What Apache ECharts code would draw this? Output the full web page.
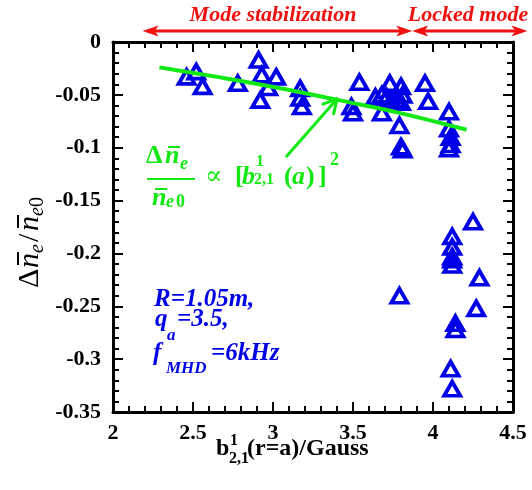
<!DOCTYPE html>
<html>
<head>
<meta charset="utf-8">
<script src="https://cdn.jsdelivr.net/npm/echarts@6/dist/echarts.min.js"></script>
<style>
  html, body { margin: 0; padding: 0; background: #ffffff; }
  #chart { width: 532px; height: 490px; }
</style>
</head>
<body>
<div id="chart"></div>
<script>
// Edge perturbation amplitude b(2,1) at r=a (Gauss) and relative drop of line-averaged density
const stabB  = [2.46, 2.52, 2.56, 2.78, 2.91, 2.93, 3.02, 2.97, 2.92, 3.17, 3.17, 3.18,
                3.54, 3.49, 3.50, 3.64, 3.68, 3.68, 3.73, 3.80, 3.71, 3.74, 3.77, 3.80,
                3.81, 3.79, 3.80, 3.81, 3.95, 3.97, 4.10, 4.10, 4.11, 4.11, 4.10];
const stabDn = [-0.033, -0.028, -0.042, -0.039, -0.017, -0.031, -0.033, -0.043, -0.055, -0.044, -0.053, -0.061,
                -0.038, -0.061, -0.067, -0.052, -0.050, -0.067, -0.039, -0.042, -0.052, -0.055, -0.055, -0.057,
                -0.050, -0.079, -0.099, -0.102, -0.039, -0.056, -0.066, -0.082, -0.090, -0.097, -0.101];
const lockedB  = [4.25, 4.12, 4.12, 4.12, 4.12, 4.12, 4.29, 3.79, 4.27, 4.14, 4.14, 4.11, 4.12];
const lockedDn = [-0.170, -0.184, -0.194, -0.203, -0.206, -0.211, -0.223, -0.240, -0.252, -0.266, -0.272, -0.309, -0.328];

// Quadratic trend drawn through the stabilization points
const fitB  = [2.29, 2.65, 3.02, 3.41, 3.79, 4.21];
const fitDn = [-0.024, -0.033, -0.043, -0.055, -0.067, -0.083];

const xTicks = [2, 2.5, 3, 3.5, 4, 4.5];
const yTicks = [0, -0.05, -0.1, -0.15, -0.2, -0.25, -0.3, -0.35];

const BLUE = '#0000e6';
const GREEN = '#12e812';
const RED = '#f01010';
const SERIF = 'Liberation Serif';

const chart = echarts.init(document.getElementById('chart'), null, { renderer: 'canvas' });

function zip(a, b) { return a.map((v, i) => [v, b[i]]); }

const axisCommon = {
  axisLine: { show: true, onZero: false, lineStyle: { color: '#000', width: 3 } },
  axisTick: { show: true, inside: true, length: 10, lineStyle: { color: '#000', width: 2 } },
  minorTick: { show: true, splitNumber: 5, length: 6, lineStyle: { color: '#000', width: 2 } },
  splitLine: { show: false },
  minorSplitLine: { show: false }
};
const labelStyle = { color: '#000', fontFamily: SERIF, fontWeight: 'bold', fontSize: 22 };

const triStyle = { color: 'rgba(255,255,255,0)', borderColor: BLUE, borderWidth: 3.8, opacity: 1 };

chart.setOption({
  animation: false,
  backgroundColor: '#ffffff',
  grid: { left: 113, right: 19, top: 42, bottom: 78, containLabel: false },
  xAxis: [
    Object.assign({}, axisCommon, {
      type: 'value', position: 'bottom', min: xTicks[0], max: xTicks[xTicks.length - 1], interval: 0.5,
      axisLabel: Object.assign({ margin: 10, formatter: v => String(v) }, labelStyle)
    }),
    Object.assign({}, axisCommon, {
      type: 'value', position: 'top', min: xTicks[0], max: xTicks[xTicks.length - 1], interval: 0.5,
      axisLabel: { show: false }
    })
  ],
  yAxis: [
    Object.assign({}, axisCommon, {
      type: 'value', position: 'left', min: yTicks[yTicks.length - 1], max: yTicks[0], interval: 0.05,
      axisLabel: Object.assign({ margin: 12, formatter: v => String(+v.toFixed(2)) }, labelStyle)
    }),
    Object.assign({}, axisCommon, {
      type: 'value', position: 'right', min: yTicks[yTicks.length - 1], max: yTicks[0], interval: 0.05,
      axisLabel: { show: false }
    })
  ],
  series: [
    {
      name: 'Mode stabilization', type: 'scatter', xAxisIndex: 0, yAxisIndex: 0,
      data: zip(stabB, stabDn), symbol: 'triangle', symbolSize: [16, 14],
      itemStyle: triStyle, z: 3
    },
    {
      name: 'Locked mode', type: 'scatter', xAxisIndex: 0, yAxisIndex: 0,
      data: zip(lockedB, lockedDn), symbol: 'triangle', symbolSize: [16, 14],
      itemStyle: triStyle, z: 3
    },
    {
      name: 'fit', type: 'line', xAxisIndex: 0, yAxisIndex: 0,
      data: zip(fitB, fitDn), smooth: 0.4, showSymbol: false, symbol: 'none',
      lineStyle: { color: GREEN, width: 4 }, z: 4
    }
  ]
});

// ---------- annotations ----------
const px = (x, y) => chart.convertToPixel({ xAxisIndex: 0, yAxisIndex: 0 }, [x, y]);

function txt(x, y, s, size, opt) {
  opt = opt || {};
  return {
    type: 'text', x: x, y: y, z: 10,
    style: {
      text: s, fill: opt.fill || '#000', fontSize: size, fontFamily: opt.family || SERIF,
      fontStyle: opt.italic ? 'italic' : 'normal', fontWeight: opt.bold ? 'bold' : 'normal',
      align: opt.align || 'left', verticalAlign: opt.va || 'middle'
    }
  };
}
function seg(x1, y1, x2, y2, color, w) {
  return { type: 'line', z: 10, shape: { x1, y1, x2, y2 }, style: { stroke: color, lineWidth: w, lineCap: 'round' } };
}
function bar(x1, x2, y, color, w) {
  return { type: 'line', z: 10, shape: { x1, y1: y, x2, y2: y }, style: { stroke: color, lineWidth: w, lineCap: 'butt' } };
}
function head(tipX, tipY, dir, color) {
  // filled arrow head pointing along dir (+1 right, -1 left)
  const L = 16, W = 5.5;
  return {
    type: 'polygon', z: 10,
    shape: { points: [[tipX, tipY], [tipX - dir * L, tipY - W], [tipX - dir * L * 0.75, tipY], [tipX - dir * L, tipY + W]] },
    style: { fill: color }
  };
}

const g = [];

// Regime arrows above the frame
const yArr = 31;
const xL = px(2.185, 0)[0], xM = px(3.87, 0)[0], xR = px(4.59, 0)[0];
g.push(seg(xL + 6, yArr, xM - 6, yArr, RED, 3));
g.push(seg(xM + 6, yArr, xR - 6, yArr, RED, 3));
g.push(head(xL, yArr, -1, RED), head(xM, yArr, 1, RED), head(xM, yArr, -1, RED), head(xR, yArr, 1, RED));
g.push(txt(273, 15, 'Mode stabilization', 22, { fill: RED, bold: true, italic: true, align: 'center' }));
g.push(txt(468, 15, 'Locked mode', 22, { fill: RED, bold: true, italic: true, align: 'center' }));

// Green pointer from the formula to the trend line
const a0 = px(3.085, -0.108), a1 = px(3.40, -0.054);
g.push(seg(a0[0], a0[1], a1[0], a1[1], GREEN, 3));
const ang = Math.atan2(a1[1] - a0[1], a1[0] - a0[0]);
[0.5, -0.5].forEach(d => {
  g.push(seg(a1[0], a1[1], a1[0] - 15 * Math.cos(ang + d), a1[1] - 15 * Math.sin(ang + d), GREEN, 3));
});

// Scaling law: Δn̄e / n̄e0 ∝ [b^1_{2,1}(a)]^2
const gi = { fill: GREEN, italic: true, bold: true };
const gr = { fill: GREEN, bold: true };
g.push(txt(146, 156, 'Δ', 26, gr));
g.push(txt(165, 156, 'n', 26, gi));
g.push(bar(168, 180, 147, GREEN, 2));
g.push(txt(180, 164, 'e', 18, gi));
g.push(bar(147, 195, 179, GREEN, 2));
g.push(txt(152, 198, 'n', 26, gi));
g.push(bar(155, 167, 189, GREEN, 2));
g.push(txt(166, 202, 'e', 18, gi));
g.push(txt(176, 202, '0', 18, gr));
g.push(txt(205, 177, '∝', 26, { fill: GREEN, family: 'DejaVu Serif' }));
g.push(txt(235, 177, '[', 26, gr));
g.push(txt(242, 177, 'b', 26, gi));
g.push(txt(256, 162, '1', 16, gr));
g.push(txt(254, 180, '2,1', 16, gr));
g.push(txt(284, 177, '(', 26, gr));
g.push(txt(292, 177, 'a', 26, gi));
g.push(txt(306, 177, ')', 26, gr));
g.push(txt(318, 177, ']', 26, gr));
g.push(txt(330, 160, '2', 18, gr));

// Discharge parameters
const bb = { fill: BLUE, bold: true, italic: true };
g.push(txt(154, 300, 'R=1.05m,', 25, bb));
g.push(txt(155, 320, 'q', 25, bb));
g.push(txt(167, 336, 'a', 17, bb));
g.push(txt(177, 320, '=3.5,', 25, bb));
g.push(txt(153, 354, 'f', 25, bb));
g.push(txt(166, 369, 'MHD', 17, bb));
g.push(txt(211, 354, '=6kHz', 25, bb));

// x-axis title: b^1_{2,1}(r=a)/Gauss
const kb = { bold: true };
g.push(txt(216, 449, 'b', 24, kb));
g.push(txt(230, 441, '1', 16, kb));
g.push(txt(229, 459, '2,1', 16, kb));
g.push(txt(247, 449, '(r=a)/Gauss', 24, kb));

// y-axis title: Δn̄e / n̄e0 (rotated)
g.push({
  type: 'group', x: 30, y: 222, rotation: Math.PI / 2, z: 10,
  children: [
    txt(-66, 0, 'Δ', 30, {}),
    txt(-46, 0, 'n', 30, { italic: true }),
    bar(-43, -30, -12, '#000', 2),
    txt(-31, 8, 'e', 20, { italic: true }),
    txt(-20, 0, '/', 30, {}),
    txt(-9, 0, 'n', 30, { italic: true }),
    bar(-6, 7, -12, '#000', 2),
    txt(6, 8, 'e', 20, { italic: true }),
    txt(15, 8, '0', 20, {})
  ]
});

chart.setOption({ graphic: g });
</script>
</body>
</html>
